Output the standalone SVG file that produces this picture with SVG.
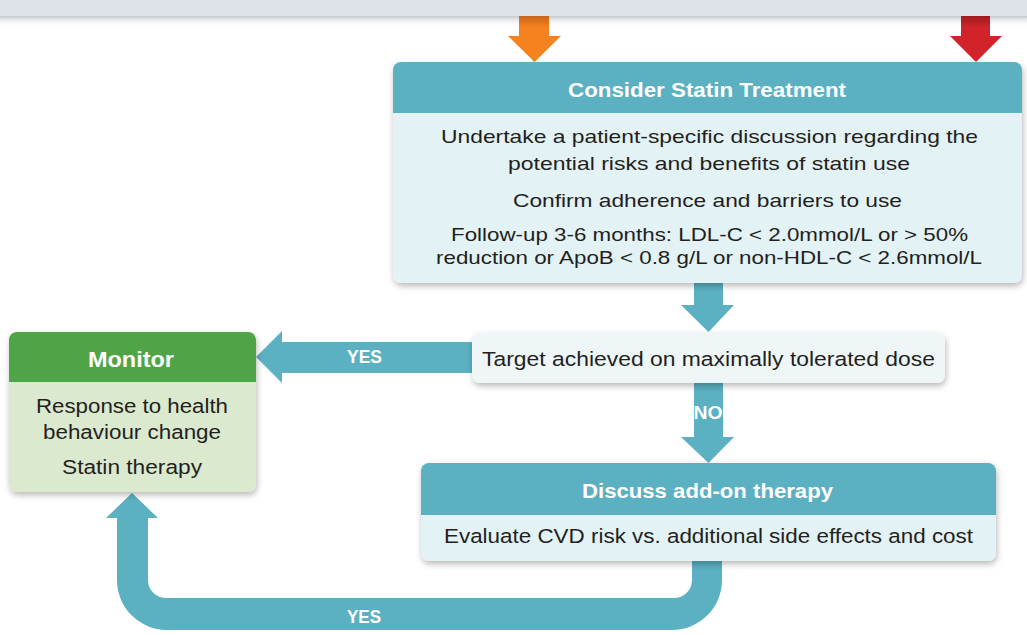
<svg xmlns="http://www.w3.org/2000/svg" width="1027" height="635" viewBox="0 0 1027 635">
<defs>
<style>
.teal{fill:#5bb0c2}
.hdr{fill:#ffffff;font-family:"Liberation Sans",Arial,sans-serif;font-weight:bold;text-anchor:middle}
.body{fill:#231f20;font-family:"Liberation Sans",Arial,sans-serif;text-anchor:middle}
.lbl{fill:#ffffff;font-family:"Liberation Sans",Arial,sans-serif;font-weight:bold;text-anchor:middle}
</style>
<filter id="sh" x="-10%" y="-10%" width="125%" height="135%">
<feDropShadow dx="1" dy="3" stdDeviation="3" flood-color="#000000" flood-opacity="0.28"/>
</filter>
<linearGradient id="bandsh" x1="0" y1="0" x2="0" y2="1">
<stop offset="0" stop-color="#9ea3aa" stop-opacity="0.6"/>
<stop offset="1" stop-color="#ffffff" stop-opacity="0"/>
</linearGradient>
<linearGradient id="og" x1="0" y1="16" x2="0" y2="62" gradientUnits="userSpaceOnUse">
<stop offset="0" stop-color="#c8651c"/>
<stop offset="0.25" stop-color="#f5821f"/>
<stop offset="1" stop-color="#f5821f"/>
</linearGradient>
<linearGradient id="rg" x1="0" y1="16" x2="0" y2="62" gradientUnits="userSpaceOnUse">
<stop offset="0" stop-color="#9e1c22"/>
<stop offset="0.25" stop-color="#d2232a"/>
<stop offset="1" stop-color="#d2232a"/>
</linearGradient>
</defs>

<rect x="0" y="16" width="1027" height="11" fill="url(#bandsh)"/>
<rect x="0" y="0" width="1027" height="16" fill="#dee2e9"/>

<g id="connectors">
<path d="M519,16 H549 V36 H561 L534.5,62 L508,36 H519 Z" fill="url(#og)"/>
<path d="M961,16 H990 V36 H1002 L976,62 L950,36 H961 Z" fill="url(#rg)"/>
<path class="teal" d="M694,280 H723 V305 H734 L708.5,332 L681,305 H694 Z"/>
<path class="teal" d="M694,380 H723 V437 H734 L708.5,463 L681,437 H694 Z"/>
<path class="teal" d="M475,342 V373 H282 V383 L256,357 L282,331 V342 Z"/>
<path class="teal" d="M722,558 V580 A50,50 0 0 1 672,630 H167 A50,50 0 0 1 117,580 V518 H106 L132,493 L158,518 H148 V580 A18,18 0 0 0 166,598 H674 A18,18 0 0 0 692,580 V558 Z"/>
<text class="lbl" x="364.5" y="363" font-size="17.5" textLength="35" lengthAdjust="spacingAndGlyphs">YES</text>
<text class="lbl" x="708" y="419" font-size="18" textLength="29" lengthAdjust="spacingAndGlyphs">NO</text>
<text class="lbl" x="364" y="623" font-size="17.5" textLength="34" lengthAdjust="spacingAndGlyphs">YES</text>
</g>

<g id="statin">
<rect x="393" y="62" width="629" height="221" rx="8" fill="#e3f2f5" filter="url(#sh)"/>
<path class="teal" d="M393,113 V70 A8,8 0 0 1 401,62 H1014 A8,8 0 0 1 1022,70 V113 Z"/>
<text class="hdr" x="707" y="97" font-size="21" textLength="278" lengthAdjust="spacingAndGlyphs">Consider Statin Treatment</text>
<text class="body" x="709.5" y="143" font-size="19" textLength="537" lengthAdjust="spacingAndGlyphs">Undertake a patient-specific discussion regarding the</text>
<text class="body" x="709" y="170" font-size="19" textLength="402" lengthAdjust="spacingAndGlyphs">potential risks and benefits of statin use</text>
<text class="body" x="707.5" y="207" font-size="19" textLength="389" lengthAdjust="spacingAndGlyphs">Confirm adherence and barriers to use</text>
<text class="body" x="709.5" y="241" font-size="19" textLength="517" lengthAdjust="spacingAndGlyphs">Follow-up 3-6 months: LDL-C &lt; 2.0mmol/L or &gt; 50%</text>
<text class="body" x="709" y="264" font-size="19" textLength="546" lengthAdjust="spacingAndGlyphs">reduction or ApoB &lt; 0.8 g/L or non-HDL-C &lt; 2.6mmol/L</text>
</g>

<g id="target">
<rect x="472" y="333" width="473" height="50" rx="8" fill="#eef6f8" filter="url(#sh)"/>
<text class="body" x="708.5" y="366" font-size="20.5" textLength="453" lengthAdjust="spacingAndGlyphs">Target achieved on maximally tolerated dose</text>
</g>

<g id="monitor">
<rect x="9" y="332" width="247" height="160" rx="8" fill="#dbe9cf" filter="url(#sh)"/>
<path d="M9,382 V340 A8,8 0 0 1 17,332 H248 A8,8 0 0 1 256,340 V382 Z" fill="#4ea447"/>
<text class="hdr" x="131" y="367" font-size="22" textLength="86" lengthAdjust="spacingAndGlyphs">Monitor</text>
<text class="body" x="132" y="413" font-size="20" textLength="192" lengthAdjust="spacingAndGlyphs">Response to health</text>
<text class="body" x="132" y="439" font-size="20" textLength="178" lengthAdjust="spacingAndGlyphs">behaviour change</text>
<text class="body" x="132" y="474" font-size="20" textLength="140" lengthAdjust="spacingAndGlyphs">Statin therapy</text>
</g>

<g id="addon">
<rect x="421" y="463" width="575" height="98" rx="8" fill="#e3f2f5" filter="url(#sh)"/>
<path class="teal" d="M421,515 V471 A8,8 0 0 1 429,463 H988 A8,8 0 0 1 996,471 V515 Z"/>
<text class="hdr" x="707.5" y="498" font-size="21" textLength="251" lengthAdjust="spacingAndGlyphs">Discuss add-on therapy</text>
<text class="body" x="708.5" y="543" font-size="20.5" textLength="529" lengthAdjust="spacingAndGlyphs">Evaluate CVD risk vs. additional side effects and cost</text>
</g>
</svg>
